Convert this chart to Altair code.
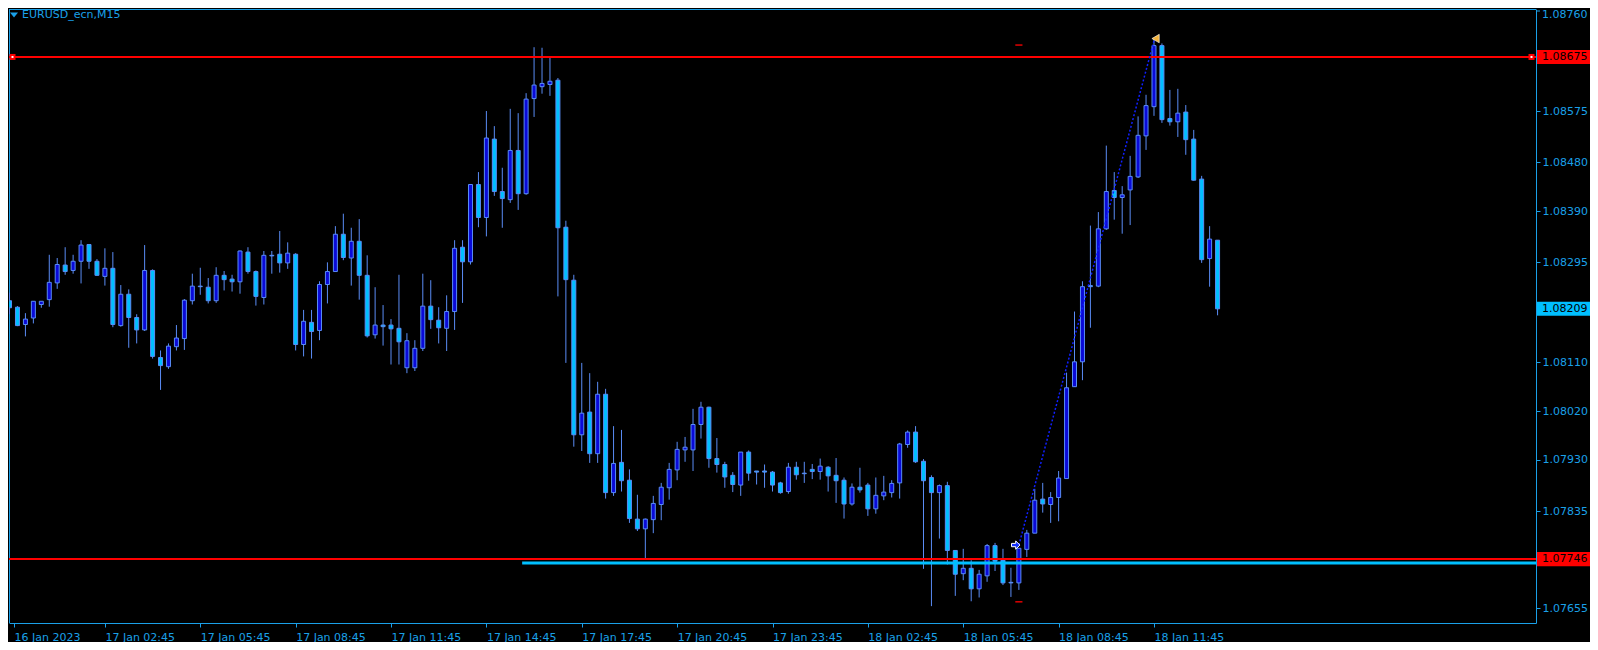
import altair as alt
import pandas as pd

# ---------------- data (EURUSD_ecn, M15) ----------------
opens = [1.08224, 1.08212, 1.08180, 1.08192, 1.08217, 1.08226, 1.08257, 1.08290, 1.08280, 1.08297,
         1.08328, 1.08297, 1.08269, 1.08284, 1.08178, 1.08236, 1.08193, 1.08170, 1.08280, 1.08119,
         1.08102, 1.08139, 1.08154, 1.08224, 1.08251, 1.08249, 1.08224, 1.08271, 1.08264, 1.08259,
         1.08314, 1.08278, 1.08230, 1.08308, 1.08310, 1.08294, 1.08310, 1.08143, 1.08184, 1.08169,
         1.08254, 1.08278, 1.08347, 1.08303, 1.08334, 1.08271, 1.08161, 1.08179, 1.08179, 1.08173,
         1.08100, 1.08100, 1.08136, 1.08214, 1.08188, 1.08173, 1.08204, 1.08323, 1.08296, 1.08439,
         1.08378, 1.08523, 1.08426, 1.08411, 1.08502, 1.08422, 1.08598, 1.08620, 1.08624, 1.08632,
         1.08360, 1.08262, 1.07976, 1.08018, 1.07941, 1.08051, 1.07869, 1.07925, 1.07892, 1.07820,
         1.07802, 1.07819, 1.07847, 1.07878, 1.07911, 1.07948, 1.07948, 1.07995, 1.08027, 1.07932,
         1.07921, 1.07901, 1.07883, 1.07944, 1.07909, 1.07909, 1.07907, 1.07887, 1.07871, 1.07916,
         1.07905, 1.07912, 1.07908, 1.07916, 1.07901, 1.07892, 1.07848, 1.07879, 1.07883, 1.07839,
         1.07863, 1.07869, 1.07887, 1.07958, 1.07981, 1.07927, 1.07897, 1.07869, 1.07882, 1.07762,
         1.07719, 1.07729, 1.07691, 1.07715, 1.07771, 1.07744, 1.07703, 1.07702, 1.07764, 1.07794,
         1.07857, 1.07847, 1.07860, 1.07895, 1.08065, 1.08111, 1.08252, 1.08251, 1.08357, 1.08428,
         1.08415, 1.08429, 1.08453, 1.08529, 1.08583, 1.08696, 1.08561, 1.08555, 1.08573, 1.08523,
         1.08449, 1.08302, 1.08336]

highs = [1.08239, 1.08214, 1.08201, 1.08223, 1.08223, 1.08309, 1.08303, 1.08323, 1.08309, 1.08336,
         1.08329, 1.08301, 1.08321, 1.08314, 1.08253, 1.08245, 1.08199, 1.08327, 1.08282, 1.08132,
         1.08145, 1.08179, 1.08227, 1.08274, 1.08285, 1.08266, 1.08286, 1.08279, 1.08272, 1.08317,
         1.08323, 1.08280, 1.08316, 1.08316, 1.08353, 1.08332, 1.08312, 1.08207, 1.08207, 1.08260,
         1.08295, 1.08362, 1.08385, 1.08359, 1.08375, 1.08308, 1.08249, 1.08216, 1.08190, 1.08272,
         1.08164, 1.08151, 1.08274, 1.08262, 1.08212, 1.08234, 1.08336, 1.08336, 1.08439, 1.08462,
         1.08575, 1.08547, 1.08470, 1.08579, 1.08571, 1.08608, 1.08693, 1.08692, 1.08673, 1.08636,
         1.08372, 1.08272, 1.08109, 1.08090, 1.08074, 1.08061, 1.07992, 1.07985, 1.07912, 1.07865,
         1.07821, 1.07863, 1.07887, 1.07924, 1.07963, 1.07972, 1.08024, 1.08037, 1.08028, 1.07970,
         1.07926, 1.07907, 1.07944, 1.07947, 1.07909, 1.07921, 1.07909, 1.07889, 1.07924, 1.07926,
         1.07926, 1.07922, 1.07932, 1.07918, 1.07933, 1.07897, 1.07886, 1.07915, 1.07887, 1.07897,
         1.07900, 1.07892, 1.07961, 1.07984, 1.07992, 1.07931, 1.07901, 1.07884, 1.07889, 1.07762,
         1.07765, 1.07744, 1.07726, 1.07774, 1.07776, 1.07765, 1.07730, 1.07766, 1.07800, 1.07876,
         1.07887, 1.07870, 1.07909, 1.08091, 1.08204, 1.08260, 1.08363, 1.08388, 1.08511, 1.08462,
         1.08436, 1.08492, 1.08565, 1.08605, 1.08708, 1.08700, 1.08614, 1.08616, 1.08586, 1.08540,
         1.08455, 1.08362, 1.08336]

lows = [1.08199, 1.08177, 1.08158, 1.08182, 1.08211, 1.08213, 1.08246, 1.08272, 1.08274, 1.08256,
        1.08283, 1.08270, 1.08252, 1.08175, 1.08176, 1.08137, 1.08145, 1.08168, 1.08117, 1.08059,
        1.08098, 1.08132, 1.08133, 1.08217, 1.08235, 1.08219, 1.08220, 1.08243, 1.08241, 1.08237,
        1.08274, 1.08215, 1.08217, 1.08274, 1.08276, 1.08283, 1.08132, 1.08121, 1.08117, 1.08151,
        1.08219, 1.08278, 1.08299, 1.08252, 1.08226, 1.08156, 1.08154, 1.08141, 1.08106, 1.08106,
        1.08090, 1.08094, 1.08131, 1.08172, 1.08145, 1.08131, 1.08170, 1.08220, 1.08291, 1.08360,
        1.08343, 1.08418, 1.08359, 1.08405, 1.08392, 1.08420, 1.08564, 1.08607, 1.08603, 1.08232,
        1.08109, 1.07954, 1.07946, 1.07924, 1.07924, 1.07858, 1.07863, 1.07871, 1.07813, 1.07798,
        1.07746, 1.07794, 1.07818, 1.07856, 1.07892, 1.07926, 1.07909, 1.07969, 1.07915, 1.07906,
        1.07878, 1.07870, 1.07863, 1.07891, 1.07884, 1.07878, 1.07871, 1.07867, 1.07867, 1.07893,
        1.07887, 1.07894, 1.07893, 1.07871, 1.07850, 1.07821, 1.07845, 1.07869, 1.07826, 1.07830,
        1.07855, 1.07860, 1.07858, 1.07952, 1.07924, 1.07728, 1.07659, 1.07784, 1.07736, 1.07678,
        1.07707, 1.07668, 1.07675, 1.07704, 1.07724, 1.07698, 1.07676, 1.07689, 1.07750, 1.07794,
        1.07832, 1.07813, 1.07816, 1.07895, 1.08065, 1.08077, 1.08174, 1.08249, 1.08355, 1.08374,
        1.08348, 1.08364, 1.08451, 1.08503, 1.08566, 1.08553, 1.08548, 1.08527, 1.08494, 1.08446,
        1.08294, 1.08250, 1.08197]

closes = [1.08211, 1.08178, 1.08190, 1.08223, 1.08223, 1.08258, 1.08291, 1.08278, 1.08297, 1.08327,
          1.08297, 1.08271, 1.08284, 1.08180, 1.08236, 1.08193, 1.08170, 1.08280, 1.08121, 1.08104,
          1.08140, 1.08155, 1.08225, 1.08251, 1.08250, 1.08224, 1.08271, 1.08263, 1.08259, 1.08316,
          1.08278, 1.08232, 1.08308, 1.08307, 1.08294, 1.08312, 1.08143, 1.08186, 1.08167, 1.08254,
          1.08278, 1.08347, 1.08304, 1.08334, 1.08271, 1.08159, 1.08179, 1.08176, 1.08172, 1.08148,
          1.08150, 1.08136, 1.08214, 1.08189, 1.08174, 1.08204, 1.08321, 1.08296, 1.08439, 1.08378,
          1.08525, 1.08426, 1.08413, 1.08502, 1.08422, 1.08597, 1.08623, 1.08626, 1.08630, 1.08359,
          1.08263, 1.07976, 1.08016, 1.07941, 1.08051, 1.07869, 1.07923, 1.07891, 1.07821, 1.07802,
          1.07820, 1.07849, 1.07879, 1.07912, 1.07949, 1.07953, 1.07995, 1.08027, 1.07932, 1.07921,
          1.07898, 1.07884, 1.07944, 1.07905, 1.07907, 1.07907, 1.07883, 1.07869, 1.07916, 1.07902,
          1.07904, 1.07908, 1.07918, 1.07900, 1.07891, 1.07848, 1.07879, 1.07874, 1.07839, 1.07864,
          1.07870, 1.07886, 1.07959, 1.07981, 1.07926, 1.07891, 1.07869, 1.07882, 1.07762, 1.07718,
          1.07729, 1.07691, 1.07718, 1.07771, 1.07742, 1.07702, 1.07702, 1.07766, 1.07794, 1.07855,
          1.07848, 1.07860, 1.07896, 1.08063, 1.08111, 1.08250, 1.08250, 1.08357, 1.08426, 1.08415,
          1.08420, 1.08454, 1.08530, 1.08585, 1.08696, 1.08559, 1.08555, 1.08571, 1.08522, 1.08447,
          1.08300, 1.08338, 1.08209]

bar_index = list(range(len(opens)))

first_time_label = "16 Jan 2023"
time_tick_bars = [12, 24, 36, 48, 60, 72, 84, 96, 108, 120, 132, 144]
time_tick_labels = ["17 Jan 02:45", "17 Jan 05:45", "17 Jan 08:45", "17 Jan 11:45",
                    "17 Jan 14:45", "17 Jan 17:45", "17 Jan 20:45", "17 Jan 23:45",
                    "18 Jan 02:45", "18 Jan 05:45", "18 Jan 08:45", "18 Jan 11:45"]

# price scale ticks; the top one is drawn separately, two are hidden behind price boxes
price_ticks = [1.08665, 1.08575, 1.08480, 1.08390, 1.08295, 1.08200,
               1.08110, 1.08020, 1.07930, 1.07835, 1.07745, 1.07655]
unlabelled_ticks = [1.08665, 1.08200, 1.07745]
top_tick_label = ["1.08760"]
top_tick_price = [1.08760]

level_prices = [1.08675, 1.07746]          # red horizontal lines
cyan_level_price = [1.07739]               # blue level line
cyan_level_start_bar = [64.5]

trade_bars = [127, 144]
trade_prices = [1.07772, 1.08705]
trade_open_marker_bar = [126.6]
trade_open_marker_price = [1.07772]
trade_close_marker_bar = [144.2]
trade_close_marker_price = [1.08709]
stop_marker_bar = [127, 127]
stop_marker_price = [1.08697, 1.07667]

box_prices = [1.08675, 1.07746, 1.08209]
box_labels = ["1.08675", "1.07746", "1.08209"]
box_fills = ["#ff0000", "#ff0000", "#00bfff"]

title_text = ["EURUSD_ecn,M15"]

# ---------------- styling ----------------
FONT = "DejaVu Sans"
FG = "#1aa0e8"
BULL = "#0a0ad8"
BEAR = "#00bfff"
EDGE = "#5a8cf5"
W, H = 1527, 614

xs = alt.Scale(domain=[0.5625, 191.4375], nice=False, zero=False)
ys = alt.Scale(domain=[1.076278, 1.087637], nice=False, zero=False)

expr = "''"
for b, lab in reversed(list(zip(time_tick_bars, time_tick_labels))):
    expr = f"datum.value == {b} ? '{lab}' : ({expr})"
expr = f"datum.value < 1 ? '{first_time_label}' : ({expr})"

hide_test = " || ".join(f"abs(datum.value - {v}) < 0.000001" for v in unlabelled_ticks)
y_label_expr = f"({hide_test}) ? '' : format(datum.value, '.5f')"

x_axis = alt.Axis(values=[0.5625] + time_tick_bars, labelExpr=expr, labelAlign="left",
                  labelBaseline="top", tickSize=4, labelPadding=4, labelOverlap=False,
                  labelFlush=False, labelBound=False, grid=False, title=None,
                  domainColor=FG, tickColor=FG, labelColor=FG, labelFont=FONT,
                  labelFontSize=11, zindex=0)
y_axis = alt.Axis(orient="right", values=price_ticks, labelExpr=y_label_expr, tickSize=4,
                  labelPadding=2, labelOverlap=False, labelFlush=False, labelBound=False,
                  grid=False, title=None, domainColor=FG, tickColor=FG, labelColor=FG,
                  labelFont=FONT, labelFontSize=11, labelAlign="left", zindex=0)


def X(f):
    return alt.X(f, type="quantitative", scale=xs, axis=x_axis)


def Y(f):
    return alt.Y(f, type="quantitative", scale=ys, axis=y_axis)


candles = pd.DataFrame({"i": bar_index, "open": opens, "high": highs,
                        "low": lows, "close": closes})
base = alt.Chart(candles)

wicks = base.mark_rule(color=EDGE, strokeWidth=1, clip=True).encode(
    x=X("i"), y=Y("low"), y2="high")
bodies = base.mark_bar(width=4, stroke=EDGE, strokeWidth=1, clip=True).encode(
    x=X("i"), y=Y("open"), y2="close",
    fill=alt.when("datum.close > datum.open").then(alt.value(BULL)).otherwise(alt.value(BEAR)))

one = pd.DataFrame({"k": [0]})
frame_left = alt.Chart(one).mark_rule(color=FG, strokeWidth=1).encode(
    x=alt.value(0.5), y=alt.value(0), y2=alt.value(H))
frame_top = alt.Chart(one).mark_rule(color=FG, strokeWidth=1).encode(
    x=alt.value(0), x2=alt.value(W), y=alt.value(0.5))

cyan_line = alt.Chart(pd.DataFrame({"start": cyan_level_start_bar, "price": cyan_level_price})).mark_rule(
    color=BEAR, strokeWidth=3).encode(x=X("start"), x2=alt.value(W), y=Y("price"))

red_lines = alt.Chart(pd.DataFrame({"price": level_prices})).mark_rule(
    color="#ff0000", strokeWidth=2).encode(y=Y("price"), x=alt.value(0), x2=alt.value(W))

handle_df = pd.DataFrame({"price": level_prices[:1]})
handles = alt.layer(
    alt.Chart(handle_df).mark_square(size=36, color="#ff0000", opacity=1).encode(y=Y("price"), x=alt.value(3.5)),
    alt.Chart(handle_df).mark_square(size=4, color="#ffffff", opacity=1).encode(y=Y("price"), x=alt.value(3.5)),
    alt.Chart(handle_df).mark_square(size=36, color="#ff0000", opacity=1).encode(y=Y("price"), x=alt.value(W - 4.5)),
    alt.Chart(handle_df).mark_square(size=4, color="#ffffff", opacity=1).encode(y=Y("price"), x=alt.value(W - 4.5)),
)

trade = alt.Chart(pd.DataFrame({"i": trade_bars, "p": trade_prices})).mark_line(
    color="#1020ff", strokeWidth=1.5, strokeDash=[2, 2]).encode(x=X("i"), y=Y("p"))

stops = alt.Chart(pd.DataFrame({"i": stop_marker_bar, "p": stop_marker_price})).transform_calculate(
    a="datum.i - 0.45", b="datum.i + 0.45").mark_rule(color="#e00000", strokeWidth=1.5).encode(
    x=X("a"), x2="b", y=Y("p"))

open_marker = alt.Chart(pd.DataFrame({"i": trade_open_marker_bar, "p": trade_open_marker_price})).mark_point(
    shape="M-1,-0.4L0,-0.4L0,-1L1,0L0,1L0,0.4L-1,0.4Z", filled=True, size=70,
    color="#1530ff", stroke="#ffffff", strokeWidth=1, opacity=1).encode(x=X("i"), y=Y("p"))

close_marker = alt.Chart(pd.DataFrame({"i": trade_close_marker_bar, "p": trade_close_marker_price})).mark_point(
    shape="triangle-left", filled=True, size=72, color="#f3b23a", stroke="#ffffff",
    strokeWidth=0.6, opacity=1).encode(x=X("i"), y=Y("p"))

bx = pd.DataFrame({"price": box_prices, "label": box_labels, "fill": box_fills})
boxes = alt.Chart(bx).transform_calculate(
    lo="datum.price - 0.00013", hi="datum.price + 0.00013").mark_rect().encode(
    x=alt.value(W + 1), x2=alt.value(W + 54), y=Y("lo"), y2="hi",
    fill=alt.Color("fill:N", scale=None))
box_text = alt.Chart(bx).mark_text(align="left", baseline="middle", font=FONT,
                                   fontSize=11, color="#000000").encode(
    x=alt.value(W + 6), y=Y("price"), text="label:N")

top_df = pd.DataFrame({"price": top_tick_price, "label": top_tick_label})
top_label = alt.Chart(top_df).mark_text(
    align="left", baseline="middle", font=FONT, fontSize=11, color=FG, dy=4).encode(
    x=alt.value(W + 6), y=Y("price"), text="label:N")
top_tick = alt.Chart(top_df).mark_rule(color=FG, strokeWidth=1).encode(
    x=alt.value(W), x2=alt.value(W + 4), y=Y("price"))

title = alt.Chart(pd.DataFrame({"t": title_text})).mark_text(
    align="left", baseline="middle", font=FONT, fontSize=11, color=FG).encode(
    text="t:N", x=alt.value(13), y=alt.value(6))
tri = alt.Chart(one).mark_point(shape="M-1,-0.6L1,-0.6L0,0.6Z", filled=True, size=64,
                                color=FG, opacity=1).encode(x=alt.value(5), y=alt.value(6))

chart = alt.layer(
    frame_left, frame_top, wicks, bodies, cyan_line, red_lines, handles, trade, stops,
    open_marker, close_marker, boxes, box_text, top_label, top_tick, title, tri
).properties(width=W, height=H, padding=0, background="#000000").configure_view(strokeWidth=0)

chart.save("out.html", embed_options={"renderer": "svg", "actions": False})
